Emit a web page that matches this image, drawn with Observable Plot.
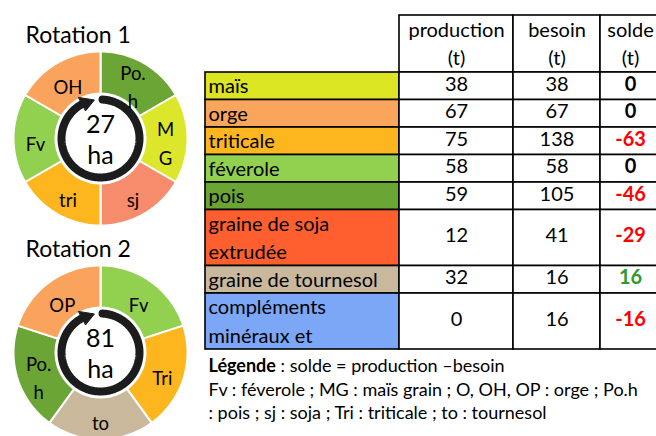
<!DOCTYPE html>
<html><head><meta charset="utf-8">
<script src="https://cdn.jsdelivr.net/npm/d3@7"></script>
<script src="https://cdn.jsdelivr.net/npm/@observablehq/plot@0.6"></script>
<style>body{margin:0;background:#fff}</style>
</head><body><div id="chart"></div>
<script>
// ---- data ----
const rotationTitles = ["Rotation 1", "Rotation 2"];
const rotationAreas = ["27\nha", "81\nha"];
const rotation1Labels = ["Po.\nh", "M\nG", "sj", "tri", "Fv", "OH"];
const rotation1Colors = ["#6aa535", "#dce62a", "#f68c6c", "#feb61e", "#92d050", "#f9a35c"];
const rotation2Labels = ["Fv", "Tri", "to", "Po.\nh", "OP"];
const rotation2Colors = ["#92d050", "#feb61e", "#c9b89c", "#6aa535", "#f9a35c"];

const headers = ["production\n(t)", "besoin\n(t)", "solde\n(t)"];
const crops = ["maïs", "orge", "triticale", "féverole", "pois", "graine de soja\nextrudée", "graine de tournesol", "compléments\nminéraux et"];
const cropColors = ["#dbe521", "#f9a55c", "#feb61e", "#92d050", "#6ba533", "#ff5f2e", "#c9b89c", "#7ba7f6"];
const production = [38, 67, 75, 58, 59, 12, 32, 0];
const besoin = [38, 67, 138, 58, 105, 41, 16, 16];
const solde = [0, 0, -63, 0, -46, -29, 16, -16];

const legendBold = "Légende";
const legendLines = [" : solde = production –besoin", "Fv : féverole ; MG : maïs grain ; O, OH, OP : orge ; Po.h", ": pois ; sj : soja ; Tri : triticale ; to : tournesol"];

// ---- layout ----
const W = 656, H = 436;
const FONT = "Lato";
const donuts = [
  {labels: rotation1Labels, colors: rotation1Colors, cx: 100, cy: 138, title: rotationTitles[0], area: rotationAreas[0]},
  {labels: rotation2Labels, colors: rotation2Colors, cx: 100, cy: 352, title: rotationTitles[1], area: rotationAreas[1]}
];
const R = 87, rHole = 46, rRing = 39, rLabel = 65;
const rad = a => a * Math.PI / 180;
const pt = (cx, cy, r, a) => [cx + r * Math.sin(rad(a)), cy - r * Math.cos(rad(a))];

const slicePts = [], sliceText = [], ringPts = [], headPts = [], holes = [], centerText = [], titles = [];
donuts.forEach((d, di) => {
  const n = d.labels.length, step = 360 / n;
  d.labels.forEach((lab, i) => {
    const a0 = i * step, a1 = (i + 1) * step, id = di + "-" + i;
    slicePts.push({id, x: d.cx, y: d.cy, color: d.colors[i]});
    const m = Math.ceil(step / 2);
    for (let k = 0; k <= m; k++) {
      const [x, y] = pt(d.cx, d.cy, R, a0 + (a1 - a0) * k / m);
      slicePts.push({id, x, y, color: d.colors[i]});
    }
    const [lx, ly] = pt(d.cx, d.cy, rLabel, (a0 + a1) / 2);
    sliceText.push({x: lx, y: ly + 3, text: lab});
  });
  holes.push({x: d.cx, y: d.cy});
  for (let a = 3; a <= 334; a += 2) { const [x, y] = pt(d.cx, d.cy, rRing, a); ringPts.push({id: di, x, y}); }
  [[rRing - 7.5, 332], [rRing, 351], [rRing + 7.5, 332]].forEach(([r, a]) => { const [x, y] = pt(d.cx, d.cy, r, a); headPts.push({id: di, x, y}); });
  centerText.push({x: d.cx, y: d.cy, text: d.area});
  titles.push({x: 25, y: d.cy - 103, text: d.title});
});

// table geometry
const colEdges = [205, 399, 513, 600, 662];
const headTop = 15, headBottom = 72, unitH = 27.5, doubleH = 56;
const rowTops = [];
let yy = headBottom;
crops.forEach(c => { const h = c.includes("\n") ? doubleH : unitH; rowTops.push([yy, yy + h]); yy += h; });
const TFS = 20, tdy = -2;

const headerCells = headers.map((h, j) => ({x1: colEdges[j + 1], x2: colEdges[j + 2], y1: headTop, y2: headBottom, text: h}));
const labelCells = crops.map((c, i) => ({x1: colEdges[0], x2: colEdges[1], y1: rowTops[i][0], y2: rowTops[i][1], text: c, color: cropColors[i]}));
const valueCells = [];
crops.forEach((c, i) => {
  [production[i], besoin[i], solde[i]].forEach((v, j) => {
    valueCells.push({x1: colEdges[j + 1], x2: colEdges[j + 2], y1: rowTops[i][0], y2: rowTops[i][1], v, col: j,
      color: j < 2 ? "black" : v < 0 ? "#ff0000" : v > 0 ? "#2e9a2e" : "black"});
  });
});

// legend
const LFS = 18;
const ctx = document.createElement("canvas").getContext("2d");
ctx.font = `bold ${LFS}px ${FONT}`;
const boldW = ctx.measureText(legendBold).width;
const legendY0 = 366, legendDY = 23.5;
const legendTexts = legendLines.map((t, i) => ({x: 208 + (i === 0 ? boldW : 0), y: legendY0 + i * legendDY, text: t}));

const chart = Plot.plot({
  width: W, height: H, margin: 0,
  x: {domain: [0, W], range: [0, W], axis: null},
  y: {domain: [0, H], range: [0, H], axis: null},
  color: {type: "identity"},
  style: {fontFamily: FONT, background: "white"},
  marks: [
    // donuts
    Plot.line(slicePts, {x: "x", y: "y", z: "id", fill: "color", stroke: "white", strokeWidth: 2, curve: "linear-closed"}),
    Plot.dot(holes, {x: "x", y: "y", r: rHole, fill: "white", stroke: "none"}),
    Plot.line(ringPts, {x: "x", y: "y", z: "id", stroke: "#1c1c1c", strokeWidth: 8}),
    Plot.line(headPts, {x: "x", y: "y", z: "id", fill: "#1c1c1c", stroke: "#1c1c1c", strokeWidth: 1, curve: "linear-closed"}),
    Plot.text(sliceText, {x: "x", y: "y", text: "text", fontSize: 18.5, lineHeight: 1.52, fill: "black"}),
    Plot.text(centerText, {x: "x", y: "y", text: "text", fontSize: 25, lineHeight: 1.22, fill: "black"}),
    Plot.text(titles, {x: "x", y: "y", text: "text", fontSize: 23, textAnchor: "start", fill: "black"}),
    // table
    Plot.rect(headerCells, {x1: "x1", x2: "x2", y1: "y1", y2: "y2", fill: "white", stroke: "black", strokeWidth: 1.6}),
    Plot.rect(labelCells, {x1: "x1", x2: "x2", y1: "y1", y2: "y2", fill: "color", stroke: "black", strokeWidth: 1.6}),
    Plot.rect(valueCells, {x1: "x1", x2: "x2", y1: "y1", y2: "y2", fill: "white", stroke: "black", strokeWidth: 1.6}),
    Plot.text(headerCells, {x: d => (d.x1 + Math.min(d.x2, 660)) / 2, y: d => (d.y1 + d.y2) / 2 + tdy, text: "text", fontSize: TFS, lineHeight: 1.42, fill: "black"}),
    Plot.text(labelCells, {x: d => d.x1 + 3, y: d => (d.y1 + d.y2) / 2 + tdy, text: "text", textAnchor: "start", fontSize: TFS, lineHeight: 1.42, fill: "black"}),
    Plot.text(valueCells.filter(d => d.col < 2), {x: d => (d.x1 + d.x2) / 2, y: d => (d.y1 + d.y2) / 2 + tdy, text: d => String(d.v), fontSize: TFS, fill: "color"}),
    Plot.text(valueCells.filter(d => d.col === 2), {x: d => (d.x1 + 660) / 2, y: d => (d.y1 + d.y2) / 2 + tdy, text: d => String(d.v), fontSize: TFS, fontWeight: "bold", fill: "color"}),
    // legend
    Plot.text([legendBold], {x: 208, y: legendY0, text: d => d, textAnchor: "start", fontSize: LFS, fontWeight: "bold", fill: "black"}),
    Plot.text(legendTexts, {x: "x", y: "y", text: "text", textAnchor: "start", fontSize: LFS, fill: "black"})
  ]
});
document.getElementById("chart").append(chart);
</script>
</body></html>
